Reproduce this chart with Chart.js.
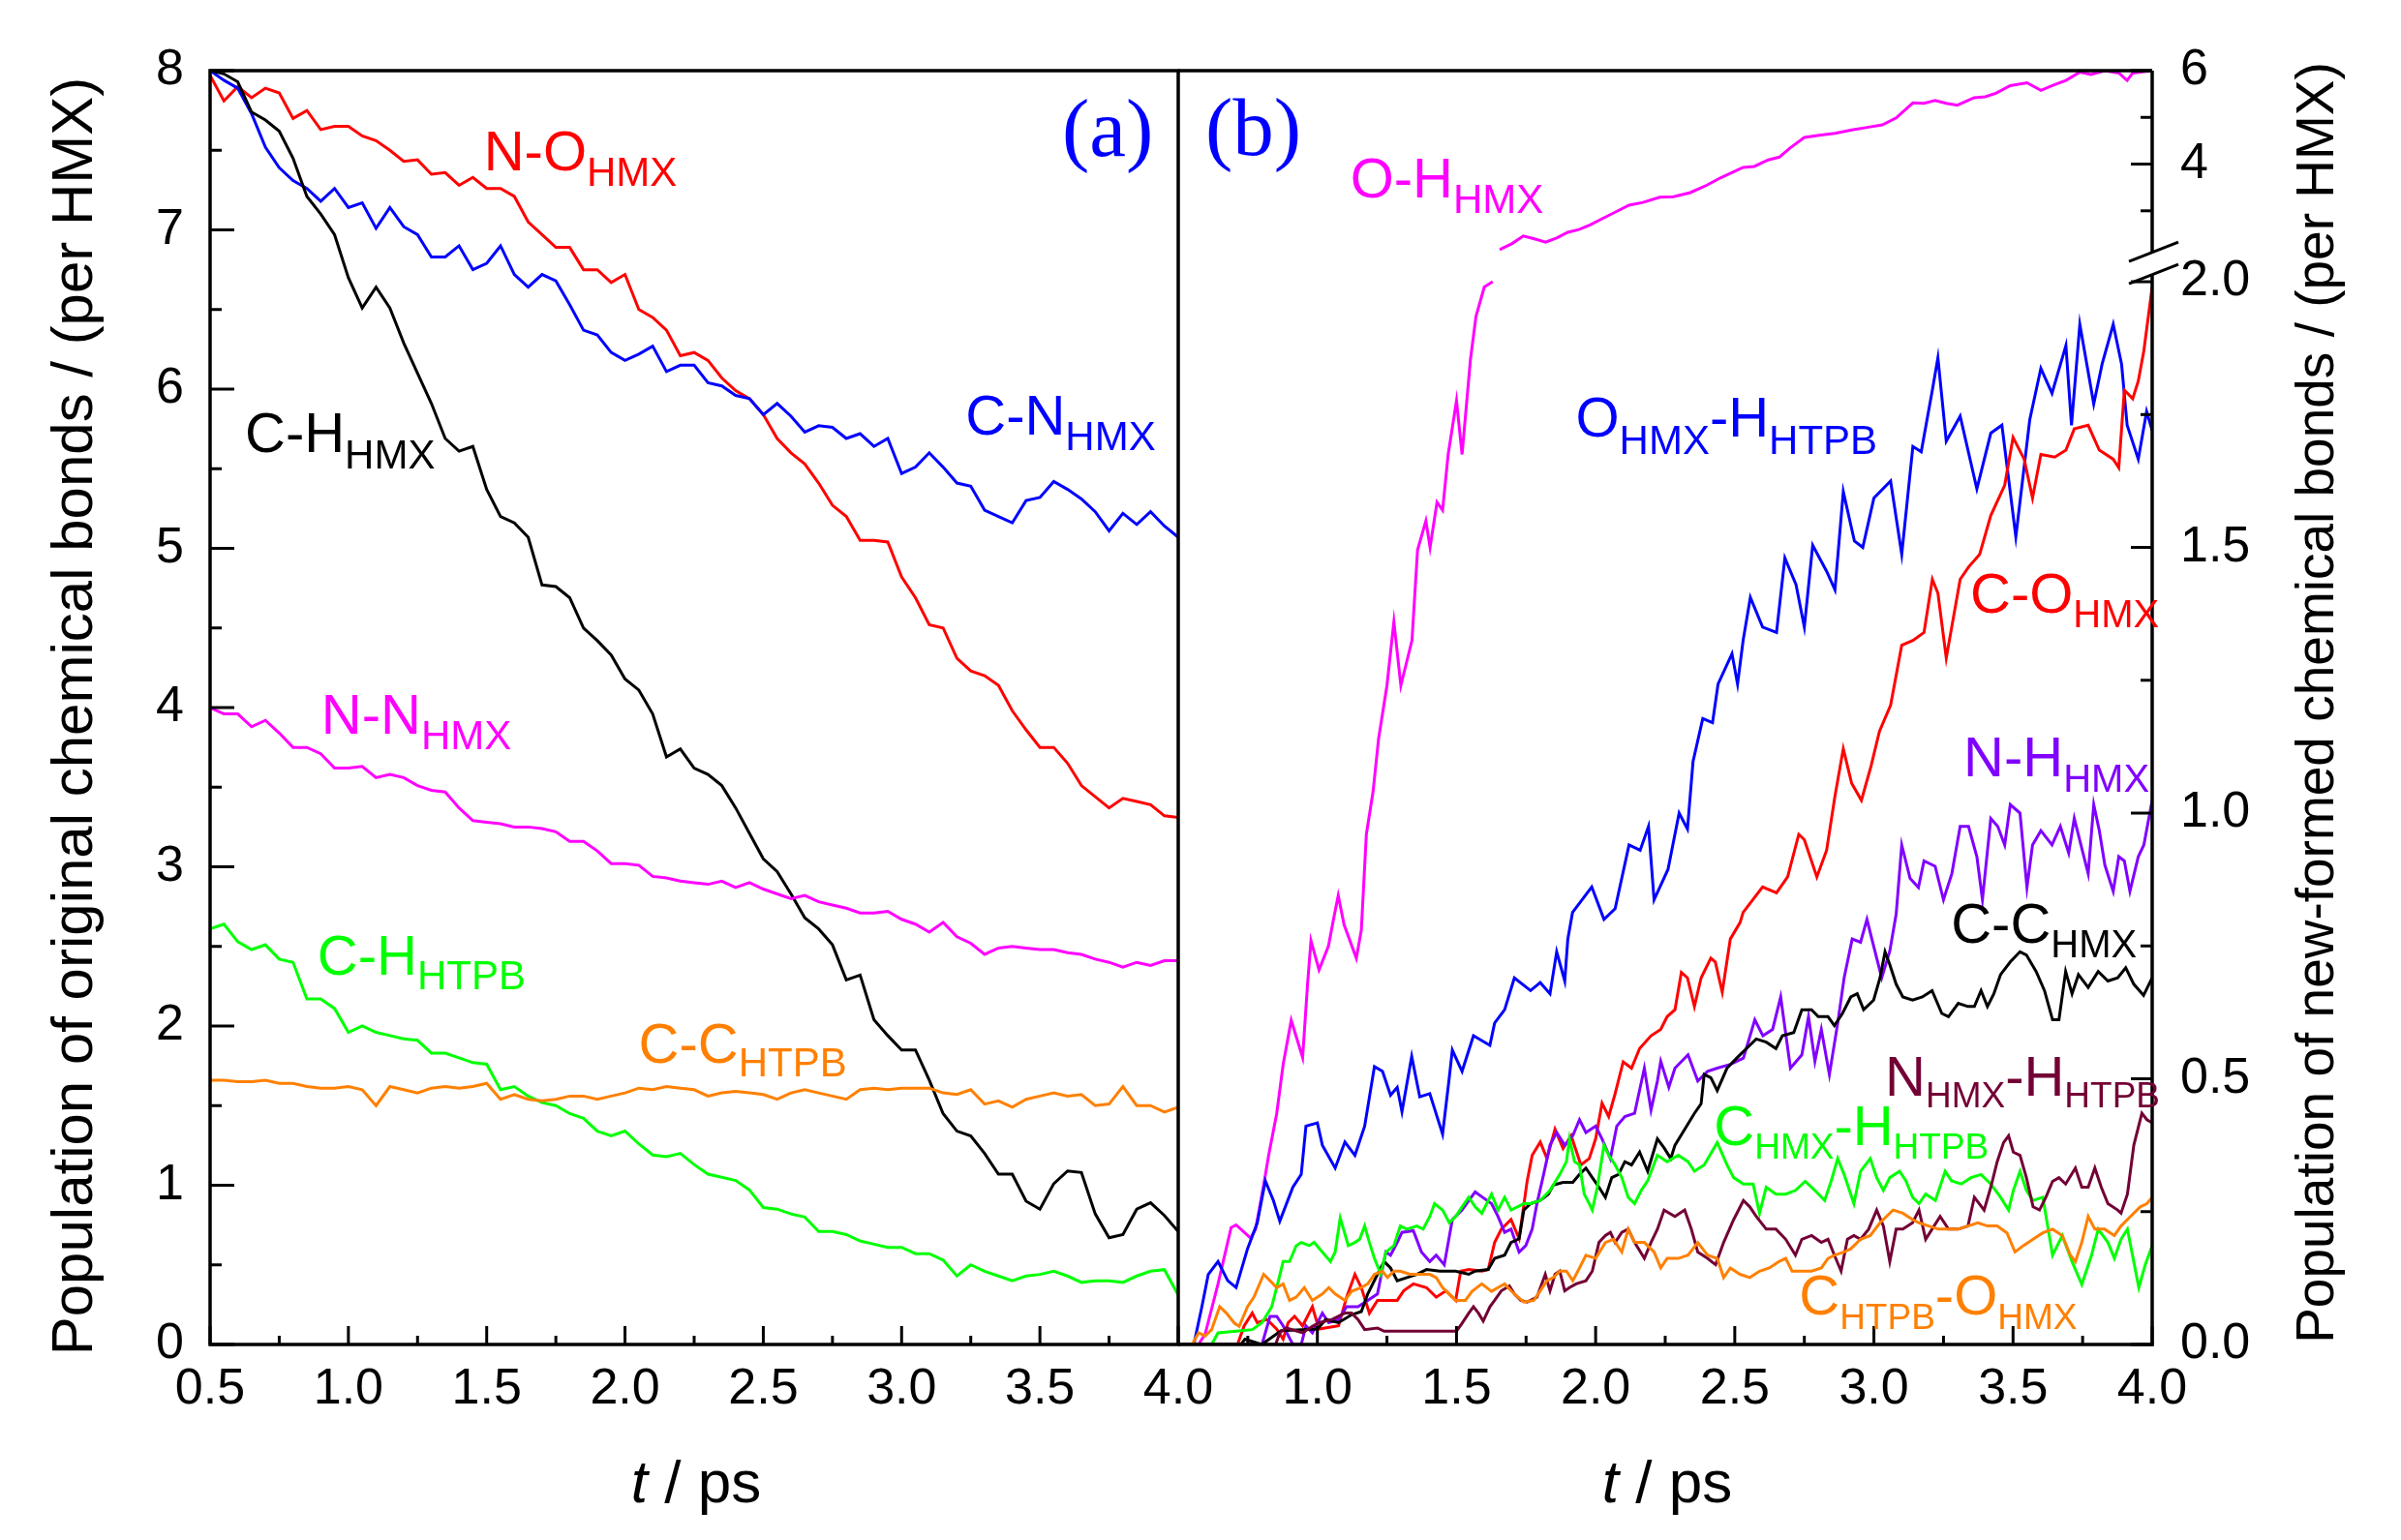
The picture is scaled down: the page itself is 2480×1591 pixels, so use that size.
<!DOCTYPE html>
<html>
<head>
<meta charset="utf-8">
<script src="https://cdn.jsdelivr.net/npm/chart.js@4.4.0/dist/chart.umd.min.js"></script>
<style>
html,body{margin:0;padding:0;background:#ffffff;}
#wrap{position:relative;width:2480px;height:1591px;background:#ffffff;}
canvas{position:absolute;left:0;top:0;width:2480px;height:1591px;}
</style>
</head>
<body>
<div id="wrap">
<canvas id="chartA" width="2480" height="1591"></canvas>
<canvas id="chartB" width="2480" height="1591"></canvas>
</div>
<script>
// ---------------- DATA: panel (a) ----------------
const T_A = [0.5,0.55,0.6,0.65,0.7,0.75,0.8,0.85,0.9,0.95,1.0,1.05,1.1,1.15,1.2,1.25,1.3,1.35,1.4,1.45,1.5,1.55,1.6,1.65,1.7,1.75,1.8,1.85,1.9,1.95,2.0,2.05,2.1,2.15,2.2,2.25,2.3,2.35,2.4,2.45,2.5,2.55,2.6,2.65,2.7,2.75,2.8,2.85,2.9,2.95,3.0,3.05,3.1,3.15,3.2,3.25,3.3,3.35,3.4,3.45,3.5,3.55,3.6,3.65,3.7,3.75,3.8,3.85,3.9,3.95,4.0];
const NO_HMX = [7.97,7.81,7.90,7.83,7.89,7.86,7.70,7.75,7.63,7.65,7.65,7.59,7.56,7.50,7.43,7.44,7.35,7.36,7.28,7.33,7.26,7.26,7.21,7.05,6.97,6.89,6.89,6.75,6.75,6.67,6.72,6.50,6.45,6.37,6.21,6.23,6.18,6.07,5.99,5.94,5.84,5.69,5.60,5.53,5.41,5.27,5.20,5.05,5.05,5.04,4.82,4.69,4.52,4.50,4.31,4.23,4.20,4.14,3.98,3.86,3.75,3.75,3.65,3.51,3.44,3.37,3.43,3.41,3.39,3.32,3.31];
const CN_HMX = [8.00,7.94,7.89,7.73,7.52,7.39,7.31,7.26,7.18,7.26,7.14,7.17,7.01,7.14,7.02,6.97,6.83,6.83,6.90,6.75,6.79,6.90,6.72,6.64,6.72,6.68,6.53,6.37,6.34,6.23,6.18,6.22,6.27,6.11,6.15,6.15,6.04,6.02,5.96,5.94,5.84,5.91,5.83,5.73,5.77,5.76,5.69,5.72,5.64,5.69,5.47,5.51,5.60,5.51,5.41,5.39,5.24,5.20,5.16,5.30,5.32,5.42,5.37,5.31,5.23,5.11,5.22,5.15,5.23,5.14,5.07];
const CH_HMX = [8.00,7.98,7.93,7.74,7.69,7.62,7.45,7.21,7.10,6.97,6.70,6.51,6.64,6.51,6.29,6.10,5.91,5.69,5.61,5.64,5.37,5.20,5.16,5.07,4.77,4.76,4.69,4.50,4.42,4.33,4.18,4.11,3.96,3.69,3.74,3.62,3.58,3.51,3.37,3.21,3.05,2.97,2.83,2.68,2.61,2.51,2.29,2.32,2.04,1.94,1.85,1.85,1.66,1.45,1.34,1.31,1.20,1.07,1.07,0.90,0.85,1.01,1.09,1.08,0.82,0.67,0.69,0.85,0.89,0.81,0.71];
const NN_HMX = [4.00,3.96,3.96,3.88,3.92,3.84,3.75,3.75,3.71,3.62,3.62,3.63,3.56,3.58,3.56,3.51,3.48,3.47,3.37,3.29,3.28,3.27,3.25,3.25,3.24,3.22,3.16,3.16,3.10,3.02,3.02,3.01,2.94,2.93,2.91,2.90,2.89,2.91,2.87,2.90,2.86,2.83,2.80,2.82,2.78,2.76,2.74,2.71,2.71,2.72,2.67,2.64,2.59,2.65,2.56,2.52,2.45,2.49,2.50,2.49,2.48,2.48,2.46,2.45,2.42,2.40,2.37,2.40,2.38,2.41,2.41];
const CH_HTPB = [2.61,2.64,2.53,2.48,2.51,2.42,2.40,2.17,2.17,2.11,1.96,2.00,1.96,1.94,1.92,1.91,1.83,1.83,1.80,1.77,1.76,1.60,1.62,1.56,1.52,1.50,1.45,1.42,1.34,1.31,1.34,1.26,1.19,1.18,1.20,1.13,1.07,1.05,1.03,0.97,0.86,0.85,0.82,0.80,0.71,0.71,0.69,0.65,0.63,0.61,0.61,0.57,0.57,0.53,0.43,0.50,0.46,0.43,0.40,0.43,0.44,0.46,0.43,0.39,0.40,0.40,0.39,0.43,0.46,0.47,0.31];
const CC_HTPB = [1.66,1.66,1.65,1.65,1.66,1.64,1.64,1.62,1.61,1.61,1.62,1.60,1.50,1.62,1.60,1.58,1.61,1.62,1.61,1.62,1.64,1.54,1.57,1.54,1.53,1.54,1.56,1.56,1.54,1.56,1.58,1.61,1.60,1.62,1.61,1.60,1.56,1.58,1.59,1.58,1.57,1.54,1.58,1.60,1.58,1.56,1.54,1.60,1.61,1.60,1.61,1.61,1.61,1.58,1.57,1.60,1.51,1.53,1.49,1.54,1.56,1.58,1.56,1.57,1.50,1.51,1.62,1.50,1.50,1.46,1.49];

// ---------------- DATA: panel (b)  [t, value] ----------------
const OH_HMX = [[0.5,0],[0.573,0],[0.597,0.02],[0.643,0.114],[0.69,0.22],[0.708,0.225],[0.76,0.20],[0.778,0.217],[0.807,0.30],[0.825,0.356],[0.854,0.435],[0.877,0.527],[0.906,0.61],[0.947,0.54],[0.965,0.68],[0.977,0.76],[1.006,0.705],[1.04,0.75],[1.058,0.80],[1.075,0.845],[1.096,0.79],[1.14,0.727],[1.158,0.78],[1.176,0.96],[1.2,1.04],[1.22,1.14],[1.25,1.24],[1.275,1.36],[1.3,1.24],[1.34,1.325],[1.36,1.495],[1.39,1.55],[1.405,1.50],[1.43,1.585],[1.45,1.57],[1.47,1.675],[1.5,1.776],[1.52,1.675],[1.55,1.853],[1.57,1.935],[1.6,1.99],[1.63,2.0],[1.64,null],[1.655,2.17],[1.70,2.30],[1.74,2.46],[1.78,2.40],[1.82,2.33],[1.86,2.42],[1.90,2.54],[1.94,2.60],[1.98,2.70],[2.03,2.85],[2.07,2.97],[2.12,3.12],[2.17,3.18],[2.23,3.29],[2.28,3.30],[2.34,3.39],[2.40,3.55],[2.45,3.71],[2.53,3.93],[2.57,3.95],[2.62,4.09],[2.66,4.15],[2.70,4.35],[2.75,4.57],[2.81,4.62],[2.86,4.66],[2.92,4.73],[2.97,4.78],[3.03,4.84],[3.08,4.99],[3.14,5.31],[3.18,5.30],[3.22,5.36],[3.26,5.30],[3.30,5.26],[3.36,5.42],[3.40,5.44],[3.44,5.52],[3.49,5.68],[3.55,5.74],[3.60,5.58],[3.65,5.70],[3.69,5.79],[3.74,5.97],[3.78,5.92],[3.83,6.0],[3.88,5.95],[3.91,5.79],[3.93,5.95],[3.97,5.98],[4.0,6.0]];
const OHMX_HHTPB = [[0.5,0],[0.556,0],[0.585,0.071],[0.608,0.132],[0.643,0.156],[0.678,0.12],[0.708,0.107],[0.749,0.18],[0.784,0.229],[0.813,0.308],[0.842,0.271],[0.865,0.232],[0.912,0.296],[0.942,0.32],[0.959,0.411],[1.0,0.417],[1.018,0.375],[1.064,0.332],[1.099,0.381],[1.135,0.356],[1.17,0.411],[1.205,0.523],[1.234,0.514],[1.263,0.469],[1.287,0.484],[1.304,0.438],[1.339,0.542],[1.368,0.466],[1.404,0.472],[1.45,0.396],[1.474,0.502],[1.485,0.554],[1.52,0.514],[1.561,0.581],[1.62,0.563],[1.637,0.605],[1.673,0.63],[1.708,0.69],[1.766,0.666],[1.801,0.681],[1.836,0.66],[1.86,0.739],[1.889,0.684],[1.90,0.763],[1.917,0.813],[1.986,0.861],[2.03,0.80],[2.07,0.82],[2.12,0.94],[2.16,0.93],[2.19,0.975],[2.21,0.837],[2.26,0.894],[2.3,1.0],[2.33,0.97],[2.35,1.097],[2.385,1.178],[2.42,1.17],[2.44,1.243],[2.49,1.30],[2.51,1.243],[2.53,1.325],[2.556,1.406],[2.6,1.35],[2.65,1.34],[2.68,1.48],[2.72,1.43],[2.75,1.35],[2.78,1.504],[2.83,1.455],[2.86,1.42],[2.89,1.605],[2.93,1.512],[2.96,1.50],[3.0,1.593],[3.06,1.625],[3.10,1.487],[3.14,1.69],[3.17,1.68],[3.21,1.796],[3.23,1.857],[3.26,1.70],[3.31,1.747],[3.37,1.61],[3.42,1.715],[3.46,1.73],[3.51,1.52],[3.56,1.74],[3.6,1.837],[3.64,1.79],[3.69,1.88],[3.71,1.73],[3.74,1.92],[3.79,1.77],[3.82,1.845],[3.86,1.92],[3.89,1.845],[3.91,1.73],[3.95,1.666],[3.98,1.756],[4.0,1.72]];
const CO_HMX = [[0.5,0],[0.713,0],[0.737,0.035],[0.766,0.059],[0.784,0.041],[0.819,0.047],[0.854,0.029],[0.877,0.01],[0.895,0.041],[0.918,0.053],[0.947,0.035],[0.982,0.071],[1.006,0.029],[1.076,0.035],[1.105,0.089],[1.135,0.132],[1.158,0.107],[1.187,0.059],[1.216,0.083],[1.287,0.083],[1.31,0.101],[1.345,0.114],[1.392,0.107],[1.427,0.089],[1.462,0.101],[1.497,0.083],[1.515,0.138],[1.544,0.141],[1.591,0.138],[1.614,0.141],[1.637,0.192],[1.661,0.217],[1.696,0.235],[1.725,0.199],[1.754,0.308],[1.772,0.356],[1.801,0.381],[1.825,0.35],[1.854,0.405],[1.883,0.369],[1.912,0.393],[1.947,0.338],[1.977,0.35],[2.0,0.387],[2.023,0.454],[2.047,0.429],[2.07,0.472],[2.099,0.532],[2.129,0.52],[2.158,0.557],[2.199,0.581],[2.234,0.593],[2.257,0.617],[2.285,0.63],[2.308,0.70],[2.33,0.69],[2.355,0.636],[2.379,0.69],[2.414,0.727],[2.43,0.72],[2.455,0.663],[2.484,0.763],[2.519,0.794],[2.53,0.813],[2.6,0.861],[2.65,0.85],[2.69,0.88],[2.73,0.96],[2.75,0.95],[2.795,0.88],[2.83,0.93],[2.86,1.032],[2.89,1.121],[2.92,1.056],[2.955,1.024],[2.99,1.089],[3.02,1.154],[3.06,1.203],[3.10,1.316],[3.14,1.325],[3.18,1.34],[3.21,1.44],[3.23,1.414],[3.26,1.292],[3.31,1.44],[3.34,1.463],[3.38,1.487],[3.42,1.56],[3.47,1.617],[3.50,1.707],[3.54,1.666],[3.57,1.593],[3.6,1.675],[3.65,1.67],[3.69,1.683],[3.72,1.723],[3.77,1.73],[3.81,1.683],[3.86,1.666],[3.88,1.65],[3.90,1.796],[3.93,1.78],[3.95,1.813],[3.97,1.87],[4.0,1.99]];
const NH_HMX = [[0.5,0],[0.801,0],[0.83,0.053],[0.854,0.053],[0.877,0.035],[0.912,0],[0.942,0],[0.959,0.035],[0.982,0.022],[1.018,0.059],[1.041,0.041],[1.076,0.047],[1.105,0.071],[1.146,0.071],[1.181,0.083],[1.216,0.095],[1.246,0.174],[1.263,0.168],[1.287,0.192],[1.304,0.211],[1.345,0.214],[1.374,0.174],[1.404,0.156],[1.427,0.168],[1.456,0.15],[1.485,0.235],[1.52,0.253],[1.567,0.287],[1.591,0.278],[1.626,0.265],[1.649,0.241],[1.673,0.211],[1.696,0.217],[1.725,0.174],[1.749,0.186],[1.772,0.217],[1.789,0.265],[1.813,0.32],[1.836,0.375],[1.86,0.399],[1.889,0.375],[1.918,0.393],[1.942,0.423],[1.965,0.399],[2.0,0.411],[2.023,0.387],[2.053,0.35],[2.076,0.411],[2.105,0.429],[2.14,0.435],[2.175,0.52],[2.199,0.441],[2.222,0.496],[2.234,0.533],[2.263,0.484],[2.285,0.52],[2.332,0.545],[2.367,0.496],[2.402,0.514],[2.437,0.52],[2.484,0.527],[2.531,0.539],[2.572,0.611],[2.601,0.581],[2.636,0.593],[2.665,0.654],[2.70,0.52],[2.741,0.545],[2.765,0.617],[2.788,0.533],[2.811,0.593],[2.84,0.508],[2.87,0.605],[2.893,0.69],[2.922,0.763],[2.952,0.757],[2.975,0.80],[2.999,0.75],[3.028,0.69],[3.057,0.74],[3.08,0.81],[3.10,0.94],[3.13,0.877],[3.16,0.86],[3.18,0.91],[3.22,0.90],[3.25,0.837],[3.28,0.886],[3.31,0.975],[3.34,0.975],[3.37,0.918],[3.39,0.837],[3.42,0.99],[3.445,0.975],[3.47,0.94],[3.49,1.016],[3.525,1.0],[3.55,0.86],[3.57,0.94],[3.6,0.967],[3.64,0.94],[3.67,0.975],[3.70,0.925],[3.72,0.99],[3.77,0.886],[3.79,1.016],[3.81,0.967],[3.83,0.902],[3.86,0.853],[3.88,0.918],[3.90,0.91],[3.92,0.853],[3.95,0.918],[3.97,0.94],[4.0,1.024]];
const CC_HMX = [[0.5,0],[0.725,0],[0.74,0.01],[0.8,0],[0.87,0.026],[1.0,0.029],[1.03,0.047],[1.076,0.041],[1.123,0.056],[1.158,0.062],[1.181,0.095],[1.216,0.132],[1.24,0.156],[1.263,0.144],[1.287,0.12],[1.322,0.126],[1.357,0.132],[1.392,0.141],[1.44,0.138],[1.497,0.138],[1.544,0.132],[1.567,0.138],[1.614,0.141],[1.637,0.162],[1.673,0.168],[1.696,0.192],[1.725,0.199],[1.742,0.253],[1.766,0.265],[1.801,0.271],[1.83,0.283],[1.848,0.30],[1.883,0.305],[1.918,0.305],[1.942,0.32],[1.965,0.332],[1.988,0.314],[2.012,0.296],[2.035,0.277],[2.058,0.314],[2.082,0.32],[2.105,0.344],[2.129,0.338],[2.158,0.362],[2.187,0.326],[2.222,0.387],[2.246,0.37],[2.27,0.35],[2.285,0.375],[2.32,0.405],[2.355,0.435],[2.379,0.453],[2.39,0.508],[2.414,0.502],[2.437,0.478],[2.472,0.52],[2.507,0.539],[2.542,0.557],[2.577,0.575],[2.613,0.569],[2.648,0.557],[2.671,0.581],[2.712,0.587],[2.741,0.63],[2.776,0.63],[2.8,0.617],[2.835,0.617],[2.858,0.60],[2.887,0.623],[2.917,0.654],[2.94,0.66],[2.963,0.63],[2.999,0.648],[3.022,0.69],[3.04,0.739],[3.057,0.715],[3.08,0.678],[3.104,0.654],[3.139,0.648],[3.174,0.654],[3.209,0.666],[3.244,0.623],[3.268,0.617],[3.303,0.642],[3.338,0.636],[3.361,0.636],[3.385,0.666],[3.408,0.636],[3.431,0.66],[3.455,0.696],[3.49,0.72],[3.525,0.739],[3.548,0.733],[3.583,0.702],[3.613,0.666],[3.642,0.611],[3.665,0.611],[3.689,0.702],[3.712,0.66],[3.735,0.696],[3.77,0.672],[3.806,0.702],[3.841,0.684],[3.876,0.69],[3.905,0.709],[3.934,0.678],[3.969,0.657],[4.0,0.69]];
const CHMX_HHTPB = [[0.5,0],[0.62,0],[0.643,0.022],[0.708,0.025],[0.766,0.028],[0.801,0.041],[0.836,0.071],[0.86,0.12],[0.877,0.156],[0.9,0.156],[0.924,0.186],[0.942,0.192],[0.971,0.186],[0.988,0.192],[1.018,0.174],[1.047,0.156],[1.064,0.174],[1.082,0.238],[1.094,0.217],[1.111,0.186],[1.135,0.192],[1.152,0.198],[1.17,0.223],[1.187,0.192],[1.205,0.162],[1.228,0.132],[1.246,0.174],[1.275,0.186],[1.298,0.223],[1.322,0.217],[1.357,0.223],[1.38,0.217],[1.404,0.241],[1.421,0.265],[1.45,0.253],[1.474,0.229],[1.497,0.241],[1.52,0.259],[1.544,0.277],[1.567,0.259],[1.591,0.247],[1.626,0.283],[1.649,0.253],[1.673,0.277],[1.696,0.253],[1.719,0.259],[1.742,0.265],[1.766,0.265],[1.801,0.271],[1.836,0.29],[1.871,0.32],[1.895,0.344],[1.906,0.387],[1.924,0.344],[1.942,0.338],[1.959,0.283],[1.977,0.265],[1.988,0.253],[2.006,0.296],[2.03,0.375],[2.047,0.356],[2.07,0.338],[2.094,0.314],[2.117,0.277],[2.14,0.265],[2.164,0.29],[2.187,0.308],[2.222,0.356],[2.257,0.344],[2.297,0.356],[2.332,0.344],[2.355,0.326],[2.39,0.338],[2.437,0.38],[2.472,0.338],[2.496,0.314],[2.531,0.302],[2.566,0.302],[2.589,0.247],[2.613,0.296],[2.648,0.283],[2.683,0.283],[2.718,0.29],[2.753,0.307],[2.788,0.29],[2.823,0.271],[2.846,0.307],[2.87,0.35],[2.893,0.32],[2.928,0.265],[2.952,0.326],[2.987,0.35],[3.01,0.314],[3.034,0.29],[3.057,0.314],[3.092,0.326],[3.115,0.308],[3.139,0.277],[3.162,0.265],[3.186,0.283],[3.221,0.271],[3.256,0.326],[3.279,0.308],[3.314,0.302],[3.349,0.314],[3.385,0.32],[3.42,0.302],[3.455,0.277],[3.484,0.253],[3.501,0.29],[3.525,0.326],[3.548,0.29],[3.572,0.271],[3.607,0.277],[3.642,0.168],[3.677,0.205],[3.712,0.156],[3.747,0.113],[3.782,0.168],[3.806,0.217],[3.841,0.192],[3.864,0.162],[3.888,0.198],[3.911,0.217],[3.952,0.107],[3.975,0.15],[4.0,0.186]];
const NHMX_HHTPB = [[0.5,0],[0.85,0],[0.865,0.022],[0.888,0.031],[0.947,0.022],[0.982,0.034],[1.006,0.041],[1.053,0.047],[1.099,0.059],[1.123,0.059],[1.146,0.047],[1.17,0.028],[1.216,0.031],[1.24,0.025],[1.5,0.025],[1.52,0.04],[1.544,0.059],[1.561,0.071],[1.579,0.059],[1.596,0.044],[1.62,0.071],[1.637,0.083],[1.661,0.101],[1.69,0.11],[1.708,0.095],[1.731,0.083],[1.754,0.08],[1.789,0.089],[1.819,0.132],[1.836,0.101],[1.854,0.132],[1.871,0.138],[1.889,0.101],[1.906,0.107],[1.93,0.114],[1.965,0.12],[1.988,0.138],[2.012,0.192],[2.035,0.205],[2.053,0.211],[2.07,0.192],[2.094,0.211],[2.117,0.217],[2.14,0.192],[2.175,0.162],[2.199,0.192],[2.222,0.217],[2.246,0.253],[2.285,0.241],[2.32,0.253],[2.344,0.217],[2.367,0.174],[2.402,0.162],[2.431,0.15],[2.46,0.192],[2.496,0.235],[2.531,0.271],[2.554,0.259],[2.577,0.241],[2.613,0.217],[2.648,0.217],[2.683,0.198],[2.718,0.168],[2.741,0.198],[2.776,0.205],[2.811,0.192],[2.835,0.198],[2.858,0.168],[2.882,0.138],[2.905,0.198],[2.928,0.205],[2.952,0.198],[2.981,0.217],[3.01,0.253],[3.034,0.223],[3.057,0.156],[3.08,0.217],[3.104,0.217],[3.139,0.229],[3.162,0.253],[3.186,0.198],[3.209,0.217],[3.238,0.241],[3.268,0.217],[3.303,0.217],[3.338,0.223],[3.361,0.277],[3.396,0.253],[3.42,0.296],[3.443,0.344],[3.466,0.38],[3.484,0.393],[3.501,0.362],[3.525,0.356],[3.548,0.314],[3.572,0.259],[3.595,0.253],[3.618,0.277],[3.642,0.307],[3.665,0.314],[3.689,0.302],[3.724,0.332],[3.747,0.296],[3.77,0.296],[3.794,0.332],[3.817,0.296],[3.841,0.265],[3.876,0.253],[3.888,0.247],[3.911,0.283],[3.934,0.375],[3.963,0.435],[3.981,0.423],[4.0,0.417]];
const CHTPB_OHMX = [[0.55,0],[0.573,0.022],[0.597,0.016],[0.62,0.028],[0.649,0.071],[0.673,0.059],[0.702,0.04],[0.719,0.034],[0.749,0.071],[0.772,0.089],[0.807,0.132],[0.83,0.12],[0.854,0.107],[0.877,0.114],[0.9,0.083],[0.924,0.089],[0.953,0.107],[0.982,0.083],[1.018,0.095],[1.041,0.107],[1.064,0.095],[1.099,0.083],[1.123,0.10],[1.158,0.107],[1.181,0.114],[1.205,0.132],[1.234,0.138],[1.252,0.126],[1.275,0.138],[1.298,0.138],[1.333,0.132],[1.368,0.132],[1.404,0.132],[1.427,0.126],[1.45,0.107],[1.474,0.095],[1.497,0.083],[1.532,0.083],[1.556,0.10],[1.591,0.114],[1.626,0.10],[1.649,0.107],[1.673,0.114],[1.696,0.101],[1.719,0.09],[1.742,0.08],[1.778,0.083],[1.801,0.101],[1.825,0.12],[1.848,0.126],[1.871,0.138],[1.895,0.138],[1.918,0.12],[1.942,0.144],[1.965,0.168],[2.0,0.162],[2.035,0.192],[2.064,0.198],[2.094,0.174],[2.117,0.217],[2.14,0.192],[2.175,0.192],[2.21,0.174],[2.234,0.144],[2.257,0.162],[2.297,0.162],[2.332,0.168],[2.367,0.192],[2.402,0.168],[2.437,0.162],[2.46,0.126],[2.484,0.144],[2.519,0.132],[2.554,0.126],[2.589,0.138],[2.624,0.144],[2.659,0.156],[2.683,0.162],[2.706,0.138],[2.741,0.138],[2.776,0.138],[2.811,0.144],[2.835,0.162],[2.858,0.168],[2.893,0.174],[2.917,0.18],[2.952,0.198],[2.987,0.205],[3.022,0.229],[3.045,0.241],[3.069,0.253],[3.104,0.247],[3.139,0.235],[3.162,0.229],[3.197,0.223],[3.232,0.217],[3.268,0.217],[3.303,0.217],[3.338,0.223],[3.373,0.229],[3.408,0.223],[3.443,0.223],[3.478,0.21],[3.507,0.174],[3.537,0.186],[3.572,0.198],[3.607,0.21],[3.642,0.217],[3.677,0.205],[3.706,0.168],[3.724,0.156],[3.747,0.192],[3.77,0.241],[3.794,0.217],[3.829,0.217],[3.864,0.205],[3.888,0.223],[3.922,0.241],[3.957,0.259],[3.981,0.265],[4.0,0.277]];

// ---------------- TICKS ----------------
const X_TICKS_A = [0.5,1.0,1.5,2.0,2.5,3.0,3.5,4.0];
const X_TICKS_B = [1.0,1.5,2.0,2.5,3.0,3.5,4.0];
const X_MINOR = [0.75,1.25,1.75,2.25,2.75,3.25,3.75];
const Y_TICKS_A = [0,1,2,3,4,5,6,7,8];
const Y_MINOR_A = [0.5,1.5,2.5,3.5,4.5,5.5,6.5,7.5];
const Y_TICKS_B = [0,0.5,1.0,1.5,2.0,4,6];
const Y_MINOR_B = [0.25,0.75,1.25,1.75,3,5];

// ---------------- STYLE ----------------
const FONT = '"Liberation Sans", Arial, Helvetica, sans-serif';
const SERIF = '"Liberation Serif", "Times New Roman", serif';
const C_RED = '#ff0000', C_BLUE = '#0000ff', C_BLACK = '#000000', C_MAG = '#ff00ff',
      C_GREEN = '#00ff00', C_ORANGE = '#ff8000', C_VIOLET = '#8000ff', C_WINE = '#730035';

// Broken y scale for panel (b): 0..2 linear, break, 2..6 compressed
const BREAK_AT = 2, LOWER_FRAC = 0.8343, GAP_FRAC = 0.019, UPPER_FRAC = 1 - LOWER_FRAC - GAP_FRAC;
class BrokenLinearScale extends Chart.LinearScale {
  getPixelForValue(value) {
    if (value === null || value === undefined || isNaN(value)) return NaN;
    let d;
    if (value <= BREAK_AT) d = (value - this.min) / (BREAK_AT - this.min) * LOWER_FRAC;
    else d = LOWER_FRAC + GAP_FRAC + (value - BREAK_AT) / (this.max - BREAK_AT) * UPPER_FRAC;
    return this.getPixelForDecimal(d);
  }
  getValueForPixel(pixel) {
    const d = this.getDecimalForPixel(pixel);
    if (d <= LOWER_FRAC) return this.min + d / LOWER_FRAC * (BREAK_AT - this.min);
    return BREAK_AT + Math.max(0, d - LOWER_FRAC - GAP_FRAC) / UPPER_FRAC * (this.max - BREAK_AT);
  }
}
BrokenLinearScale.id = 'brokenLinear';
BrokenLinearScale.defaults = Chart.LinearScale.defaults;
Chart.register(BrokenLinearScale);

function lineDS(data, color, width) {
  return { data: data, borderColor: color, borderWidth: width, pointRadius: 0, tension: 0, fill: false, spanGaps: false };
}
const zipA = arr => T_A.map((t, i) => ({ x: t, y: arr[i] }));
const pairs = arr => arr.map(p => ({ x: p[0], y: p[1] }));

function richText(ctx, x, y, parts, color, mainSize, subSize, subDrop) {
  ctx.save();
  ctx.fillStyle = color;
  ctx.textAlign = 'left';
  ctx.textBaseline = 'alphabetic';
  let cx = x;
  for (const [txt, sub] of parts) {
    ctx.font = (sub ? subSize : mainSize) + 'px ' + FONT;
    ctx.fillText(txt, cx, sub ? y + subDrop : y);
    cx += ctx.measureText(txt).width;
  }
  ctx.restore();
}
function xTitle(ctx, cx, y) {
  ctx.save();
  ctx.fillStyle = '#000';
  ctx.textBaseline = 'alphabetic';
  ctx.textAlign = 'left';
  ctx.font = 'italic 62px ' + FONT;
  const w1 = ctx.measureText('t').width;
  ctx.font = '62px ' + FONT;
  const w2 = ctx.measureText(' / ps').width;
  const x0 = cx - (w1 + w2) / 2;
  ctx.font = 'italic 62px ' + FONT;
  ctx.fillText('t', x0, y);
  ctx.font = '62px ' + FONT;
  ctx.fillText(' / ps', x0 + w1, y);
  ctx.restore();
}
function yTitle(ctx, x, cy, text, size) {
  ctx.save();
  ctx.fillStyle = '#000';
  ctx.translate(x, cy);
  ctx.rotate(-Math.PI / 2);
  ctx.textAlign = 'center';
  ctx.textBaseline = 'alphabetic';
  ctx.font = size + 'px ' + FONT;
  ctx.fillText(text, 0, 0);
  ctx.restore();
}
function seg(ctx, x1, y1, x2, y2) { ctx.beginPath(); ctx.moveTo(x1, y1); ctx.lineTo(x2, y2); ctx.stroke(); }

// Series labels positioned in data coordinates
const LABELS_A = [
  { t: 1.4895, v: 7.374, parts: [['N-O', 0], ['HMX', 1]], color: C_RED, sub: 42, drop: 16 },
  { t: 3.231, v: 5.714, parts: [['C-N', 0], ['HMX', 1]], color: C_BLUE, sub: 42, drop: 16 },
  { t: 0.626, v: 5.605, parts: [['C-H', 0], ['HMX', 1]], color: C_BLACK, sub: 42, drop: 17 },
  { t: 0.902, v: 3.836, parts: [['N-N', 0], ['HMX', 1]], color: C_MAG, sub: 42, drop: 16 },
  { t: 0.888, v: 2.322, parts: [['C-H', 0], ['HTPB', 1]], color: C_GREEN, sub: 42, drop: 15 },
  { t: 2.049, v: 1.769, parts: [['C-C', 0], ['HTPB', 1]], color: C_ORANGE, sub: 42, drop: 14 }
];
const LABELS_B = [
  { t: 1.118, v: 3.29, parts: [['O-H', 0], ['HMX', 1]], color: C_MAG, sub: 42, drop: 16 },
  { t: 1.928, v: 1.709, parts: [['O', 0], ['HMX', 1], ['-H', 0], ['HTPB', 1]], color: C_BLUE, sub: 42, drop: 18 },
  { t: 3.346, v: 1.377, parts: [['C-O', 0], ['HMX', 1]], color: C_RED, sub: 40, drop: 15 },
  { t: 3.322, v: 1.069, parts: [['N-H', 0], ['HMX', 1]], color: C_VIOLET, sub: 40, drop: 16 },
  { t: 3.277, v: 0.756, parts: [['C-C', 0], ['HMX', 1]], color: C_BLACK, sub: 40, drop: 15 },
  { t: 3.040, v: 0.468, parts: [['N', 0], ['HMX', 1], ['-H', 0], ['HTPB', 1]], color: C_WINE, sub: 37, drop: 12 },
  { t: 2.425, v: 0.375, parts: [['C', 0], ['HMX', 1], ['-H', 0], ['HTPB', 1]], color: C_GREEN, sub: 37, drop: 14 },
  { t: 2.731, v: 0.056, parts: [['C', 0], ['HTPB', 1], ['-O', 0], ['HMX', 1]], color: C_ORANGE, sub: 37, drop: 15 }
];

const decorA = {
  id: 'decorA',
  afterDraw(chart) {
    const ctx = chart.ctx, ca = chart.chartArea, xs = chart.scales.x, ys = chart.scales.y;
    ctx.save();
    ctx.strokeStyle = '#000';
    ctx.lineWidth = 3.5;
    ctx.strokeRect(ca.left, ca.top, ca.right - ca.left, ca.bottom - ca.top);
    ctx.lineWidth = 3;
    Y_TICKS_A.forEach(v => { const y = ys.getPixelForValue(v); seg(ctx, ca.left, y, ca.left + 25, y); });
    Y_MINOR_A.forEach(v => { const y = ys.getPixelForValue(v); seg(ctx, ca.left, y, ca.left + 12, y); });
    X_TICKS_A.forEach(v => { const x = xs.getPixelForValue(v); seg(ctx, x, ca.bottom, x, ca.bottom - 19); });
    X_MINOR.forEach(v => { const x = xs.getPixelForValue(v); seg(ctx, x, ca.bottom, x, ca.bottom - 9); });
    ctx.restore();
    LABELS_A.forEach(l => richText(ctx, xs.getPixelForValue(l.t), ys.getPixelForValue(l.v), l.parts, l.color, 58, l.sub, l.drop));
    ctx.save();
    ctx.fillStyle = C_BLUE;
    ctx.font = '85px ' + SERIF;
    ctx.textBaseline = 'alphabetic';
    ctx.fillText('(a)', xs.getPixelForValue(3.58), ys.getPixelForValue(7.465));
    ctx.restore();
    yTitle(ctx, ca.left - 122, (ca.top + ca.bottom) / 2 + 9, 'Population of original chemical bonds / (per HMX)', 60);
    xTitle(ctx, (ca.left + ca.right) / 2 + 2, ca.bottom + 163);
  }
};

const decorB = {
  id: 'decorB',
  afterDraw(chart) {
    const ctx = chart.ctx, ca = chart.chartArea, xs = chart.scales.x, ys = chart.scales.y;
    const yLowTop = ys.getPixelForValue(BREAK_AT);
    const yUpBot = ys.getPixelForDecimal(LOWER_FRAC + GAP_FRAC);
    const yc = (yLowTop + yUpBot) / 2;
    ctx.save();
    ctx.strokeStyle = '#000';
    ctx.lineWidth = 3.5;
    seg(ctx, ca.left, ca.top, ca.right, ca.top);
    seg(ctx, ca.left, ca.bottom, ca.right + 1.5, ca.bottom);
    seg(ctx, ca.right, ca.bottom + 1.5, ca.right, yc + 5);
    seg(ctx, ca.right, yc - 18, ca.right, ca.top);
    ctx.lineWidth = 3;
    Y_TICKS_B.forEach(v => { const y = ys.getPixelForValue(v); seg(ctx, ca.right, y, ca.right - 22, y); });
    Y_MINOR_B.forEach(v => { const y = ys.getPixelForValue(v); seg(ctx, ca.right, y, ca.right - 12, y); });
    X_TICKS_B.forEach(v => { const x = xs.getPixelForValue(v); seg(ctx, x, ca.bottom, x, ca.bottom - 19); });
    X_MINOR.forEach(v => { const x = xs.getPixelForValue(v); seg(ctx, x, ca.bottom, x, ca.bottom - 9); });
    // break marks
    ctx.lineWidth = 3;
    seg(ctx, ca.right - 24, yc - 18 + 9.5, ca.right + 27, yc - 18 - 10.5);
    seg(ctx, ca.right - 24, yc + 5 + 9.5, ca.right + 27, yc + 5 - 10.5);
    ctx.restore();
    LABELS_B.forEach(l => richText(ctx, xs.getPixelForValue(l.t), ys.getPixelForValue(l.v), l.parts, l.color, 58, l.sub, l.drop));
    ctx.save();
    ctx.fillStyle = C_BLUE;
    ctx.font = '85px ' + SERIF;
    ctx.textBaseline = 'alphabetic';
    ctx.fillText('(b)', xs.getPixelForValue(0.597), ys.getPixelForValue(4.19));
    ctx.restore();
    yTitle(ctx, ca.right + 187, (ca.top + ca.bottom) / 2 - 5, 'Population of new-formed chemical bonds / (per HMX)', 55);
    xTitle(ctx, (ca.left + ca.right) / 2 + 2, ca.bottom + 163);
  }
};

const tickFont = { family: FONT, size: 52 };

new Chart(document.getElementById('chartA'), {
  type: 'line',
  data: {
    datasets: [
      lineDS(zipA(CC_HTPB), C_ORANGE, 3),
      lineDS(zipA(CH_HTPB), C_GREEN, 3),
      lineDS(zipA(NN_HMX), C_MAG, 3),
      lineDS(zipA(CH_HMX), C_BLACK, 3),
      lineDS(zipA(CN_HMX), C_BLUE, 3),
      lineDS(zipA(NO_HMX), C_RED, 3)
    ]
  },
  options: {
    responsive: false, animation: false, devicePixelRatio: 1, events: [],
    layout: { padding: { left: 0, top: 73, right: 1263, bottom: 0 } },
    plugins: { legend: { display: false }, tooltip: { enabled: false } },
    scales: {
      x: {
        type: 'linear', position: 'bottom', min: 0.5, max: 4.0,
        afterBuildTicks: s => { s.ticks = X_TICKS_A.map(v => ({ value: v })); },
        afterFit: s => { s.height = 202; },
        grid: { display: false, drawTicks: false }, border: { display: false },
        ticks: { autoSkip: false, maxRotation: 0, padding: 15, font: tickFont, color: '#000', callback: v => Number(v).toFixed(1) }
      },
      y: {
        type: 'linear', position: 'left', min: 0, max: 8,
        afterBuildTicks: s => { s.ticks = Y_TICKS_A.map(v => ({ value: v })); },
        afterFit: s => { s.width = 217; },
        grid: { display: false, drawTicks: false }, border: { display: false },
        ticks: { autoSkip: false, padding: 27, font: tickFont, color: '#000', callback: v => String(v) }
      }
    }
  },
  plugins: [decorA]
});

new Chart(document.getElementById('chartB'), {
  type: 'line',
  data: {
    datasets: [
      lineDS(pairs(CHTPB_OHMX), C_ORANGE, 3),
      lineDS(pairs(NHMX_HHTPB), C_WINE, 3),
      lineDS(pairs(CHMX_HHTPB), C_GREEN, 3),
      lineDS(pairs(CC_HMX), C_BLACK, 3),
      lineDS(pairs(NH_HMX), C_VIOLET, 3),
      lineDS(pairs(CO_HMX), C_RED, 3),
      lineDS(pairs(OHMX_HHTPB), C_BLUE, 3),
      lineDS(pairs(OH_HMX), C_MAG, 3)
    ]
  },
  options: {
    responsive: false, animation: false, devicePixelRatio: 1, events: [],
    layout: { padding: { left: 1217, top: 73, right: 0, bottom: 0 } },
    plugins: { legend: { display: false }, tooltip: { enabled: false } },
    scales: {
      x: {
        type: 'linear', position: 'bottom', min: 0.5, max: 4.0,
        afterBuildTicks: s => { s.ticks = X_TICKS_B.map(v => ({ value: v })); },
        afterFit: s => { s.height = 202; },
        grid: { display: false, drawTicks: false }, border: { display: false },
        ticks: { autoSkip: false, maxRotation: 0, padding: 15, font: tickFont, color: '#000', callback: v => Number(v).toFixed(1) }
      },
      y: {
        type: 'brokenLinear', position: 'right', min: 0, max: 6,
        afterBuildTicks: s => { s.ticks = Y_TICKS_B.map(v => ({ value: v })); },
        afterFit: s => { s.width = 257; },
        grid: { display: false, drawTicks: false }, border: { display: false },
        ticks: { autoSkip: false, padding: 29, font: tickFont, color: '#000', callback: v => (v <= BREAK_AT ? Number(v).toFixed(1) : String(v)) }
      }
    }
  },
  plugins: [decorB]
});
</script>
</body>
</html>
